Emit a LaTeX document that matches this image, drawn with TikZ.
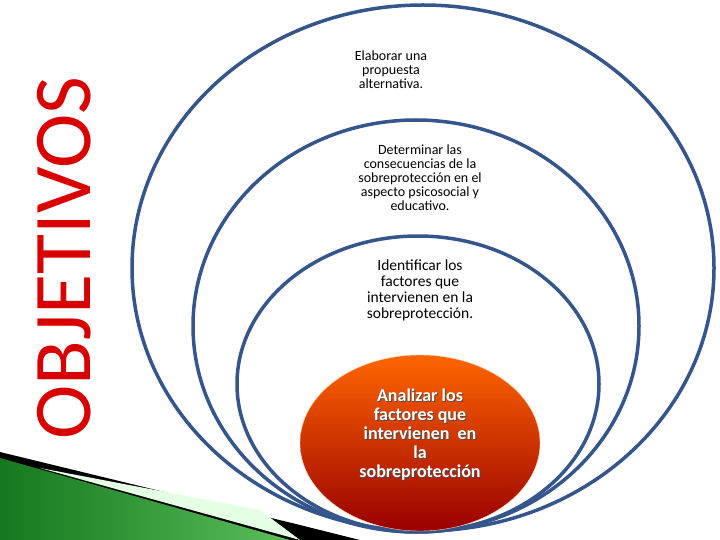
\documentclass[tikz,border=0pt]{standalone}
\usepackage{fontspec}
\setmainfont{Carlito}
\begin{document}
\begin{tikzpicture}[x=1pt,y=-1pt,
  lbl/.style={align=center, font=\fontsize{14}{14}\selectfont, text=black}]
\definecolor{ringblue}{RGB}{52,86,140}
\definecolor{gdark}{RGB}{20,120,30}
\definecolor{glight}{RGB}{90,190,90}
\useasboundingbox (0,0) rectangle (720,540);
\fill[black] (0,452) -- (300,525) -- (360,540) -- (0,540) -- cycle;
\fill[green!10!white] (40,468) -- (260,510) -- (300,540) -- cycle;
\shade[left color=gdark, right color=glight] (0,458) -- (290,540) -- (0,540) -- cycle;
\draw[ringblue, line width=3.5pt] (423,268) ellipse [x radius=291, y radius=263];
\draw[ringblue, line width=3.5pt] (416,326) ellipse [x radius=223, y radius=206];
\draw[ringblue, line width=3.5pt] (418,384) ellipse [x radius=181, y radius=148];
\shade[top color=orange!80!red, bottom color=red!60!black, draw=orange!40] (420,443) ellipse [x radius=120, y radius=88];
\node[rotate=90, text=red!85!black, font=\fontsize{82}{82}\selectfont] (obj) at (64,258) {OBJETIVOS};
\node[lbl] (t1) at (391,70) {Elaborar una\\propuesta\\alternativa.};
\node[lbl] (t2) at (420,178) {Determinar las\\consecuencias de la\\sobreprotección en el\\aspecto psicosocial y\\educativo.};
\node[lbl, font=\fontsize{15.5}{16}\selectfont] (t3) at (420,290) {Identificar los\\factores que\\intervienen en la\\sobreprotección.};
\node[align=center, text=black!70, font=\bfseries\fontsize{18}{19}\selectfont] at (421,436) {Analizar los\\factores que\\intervienen\ \ en\\la\\sobreprotección};
\node[align=center, text=white, font=\bfseries\fontsize{18}{19}\selectfont] (t4) at (420,435) {Analizar los\\factores que\\intervienen\ \ en\\la\\sobreprotección};
\end{tikzpicture}
\end{document}
